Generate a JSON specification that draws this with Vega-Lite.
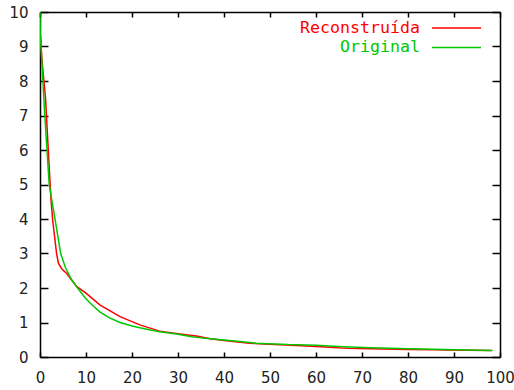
{
  "$schema": "https://vega.github.io/schema/vega-lite/v6.json",
  "autosize": {"type": "none"},
  "width": 460,
  "height": 345,
  "padding": {"left": 40, "top": 12, "right": 14, "bottom": 33},
  "background": "white",
  "config": {
    "view": {"stroke": null},
    "axis": {
      "grid": false,
      "domainColor": "black",
      "domainWidth": 1.5,
      "tickColor": "black",
      "tickWidth": 1.5,
      "labelFlush": false,
      "labelOverlap": false,
      "labelFont": "DejaVu Sans",
      "labelFontSize": 15,
      "labelColor": "#222222",
      "title": null
    }
  },
  "data": {
    "values": [
      {"x": 0, "y": 9.45, "s": "Reconstruída"},
      {"x": 0.5, "y": 8.5, "s": "Reconstruída"},
      {"x": 1.2, "y": 7.5, "s": "Reconstruída"},
      {"x": 1.6, "y": 6.5, "s": "Reconstruída"},
      {"x": 2.0, "y": 5.5, "s": "Reconstruída"},
      {"x": 2.4, "y": 4.55, "s": "Reconstruída"},
      {"x": 2.75, "y": 3.97, "s": "Reconstruída"},
      {"x": 3.6, "y": 3.0, "s": "Reconstruída"},
      {"x": 4.0, "y": 2.72, "s": "Reconstruída"},
      {"x": 4.7, "y": 2.56, "s": "Reconstruída"},
      {"x": 5.8, "y": 2.42, "s": "Reconstruída"},
      {"x": 8, "y": 2.04, "s": "Reconstruída"},
      {"x": 10, "y": 1.85, "s": "Reconstruída"},
      {"x": 13, "y": 1.51, "s": "Reconstruída"},
      {"x": 17.4, "y": 1.17, "s": "Reconstruída"},
      {"x": 21.7, "y": 0.93, "s": "Reconstruída"},
      {"x": 26, "y": 0.75, "s": "Reconstruída"},
      {"x": 30.4, "y": 0.67, "s": "Reconstruída"},
      {"x": 34, "y": 0.61, "s": "Reconstruída"},
      {"x": 37, "y": 0.53, "s": "Reconstruída"},
      {"x": 40, "y": 0.48, "s": "Reconstruída"},
      {"x": 45.5, "y": 0.4, "s": "Reconstruída"},
      {"x": 51, "y": 0.36, "s": "Reconstruída"},
      {"x": 58, "y": 0.32, "s": "Reconstruída"},
      {"x": 62, "y": 0.29, "s": "Reconstruída"},
      {"x": 67, "y": 0.25, "s": "Reconstruída"},
      {"x": 72, "y": 0.24, "s": "Reconstruída"},
      {"x": 80, "y": 0.22, "s": "Reconstruída"},
      {"x": 86, "y": 0.21, "s": "Reconstruída"},
      {"x": 88, "y": 0.2, "s": "Reconstruída"},
      {"x": 98, "y": 0.19, "s": "Reconstruída"},
      {"x": 0, "y": 10, "s": "Original"},
      {"x": 0.05, "y": 9.4, "s": "Original"},
      {"x": 1, "y": 7.1, "s": "Original"},
      {"x": 2, "y": 5.0, "s": "Original"},
      {"x": 3.3, "y": 3.97, "s": "Original"},
      {"x": 4.5, "y": 3.0, "s": "Original"},
      {"x": 5.5, "y": 2.6, "s": "Original"},
      {"x": 6.9, "y": 2.23, "s": "Original"},
      {"x": 8.5, "y": 1.94, "s": "Original"},
      {"x": 9.8, "y": 1.72, "s": "Original"},
      {"x": 11, "y": 1.55, "s": "Original"},
      {"x": 13, "y": 1.31, "s": "Original"},
      {"x": 15, "y": 1.14, "s": "Original"},
      {"x": 17.4, "y": 1.0, "s": "Original"},
      {"x": 20, "y": 0.9, "s": "Original"},
      {"x": 21.7, "y": 0.85, "s": "Original"},
      {"x": 24, "y": 0.78, "s": "Original"},
      {"x": 26, "y": 0.73, "s": "Original"},
      {"x": 30, "y": 0.66, "s": "Original"},
      {"x": 33, "y": 0.59, "s": "Original"},
      {"x": 36, "y": 0.54, "s": "Original"},
      {"x": 40, "y": 0.49, "s": "Original"},
      {"x": 44, "y": 0.44, "s": "Original"},
      {"x": 47, "y": 0.4, "s": "Original"},
      {"x": 51, "y": 0.38, "s": "Original"},
      {"x": 54, "y": 0.36, "s": "Original"},
      {"x": 60, "y": 0.34, "s": "Original"},
      {"x": 66, "y": 0.3, "s": "Original"},
      {"x": 72, "y": 0.27, "s": "Original"},
      {"x": 80, "y": 0.24, "s": "Original"},
      {"x": 88, "y": 0.22, "s": "Original"},
      {"x": 98.4, "y": 0.19, "s": "Original"}
    ]
  },
  "layer": [
    {
      "transform": [{"filter": "datum.s === 'Reconstruída'"}],
      "mark": {"type": "line", "strokeWidth": 1.5, "clip": true},
      "encoding": {
        "x": {"field": "x", "type": "quantitative", "scale": {"domain": [0, 100], "nice": false},
              "axis": {"orient": "bottom", "values": [0,10,20,30,40,50,60,70,80,90,100], "tickSize": -5, "labelPadding": 18}},
        "y": {"field": "y", "type": "quantitative", "scale": {"domain": [0, 10], "nice": false},
              "axis": {"orient": "left", "values": [0,1,2,3,4,5,6,7,8,9,10], "tickSize": -8, "labelPadding": 20}},
        "color": {"field": "s", "type": "nominal",
          "scale": {"domain": ["Reconstruída", "Original"], "range": ["#ff0000", "#00c800"]},
          "legend": {
            "title": null,
            "orient": "none",
            "legendX": 416.5,
            "legendY": 16,
            "padding": 0,
            "symbolType": "stroke",
            "symbolSize": 2401,
            "symbolStrokeWidth": 1.5,
            "labelFont": "DejaVu Sans Mono",
            "labelFontSize": 16.6,
            "rowPadding": 2.4,
            "encode": {
              "symbols": {"update": {"x": {"value": 0}, "y": {"value": 0}}},
              "labels": {"update": {"fill": {"scale": "color", "field": "value"}, "x": {"value": -36.5}, "y": {"value": 0}, "align": {"value": "right"}, "baseline": {"value": "middle"}}}
            }
          }
        }
      }
    },
    {
      "transform": [{"filter": "datum.s === 'Original'"}],
      "mark": {"type": "line", "strokeWidth": 1.5, "clip": true},
      "encoding": {
        "x": {"field": "x", "type": "quantitative", "axis": {"orient": "top", "values": [0,10,20,30,40,50,60,70,80,90,100], "tickSize": -5, "labels": false}},
        "y": {"field": "y", "type": "quantitative", "axis": {"orient": "right", "values": [0,1,2,3,4,5,6,7,8,9,10], "tickSize": -8, "labels": false}},
        "color": {"field": "s", "type": "nominal"}
      }
    }
  ],
  "resolve": {"axis": {"x": "independent", "y": "independent"}}
}
